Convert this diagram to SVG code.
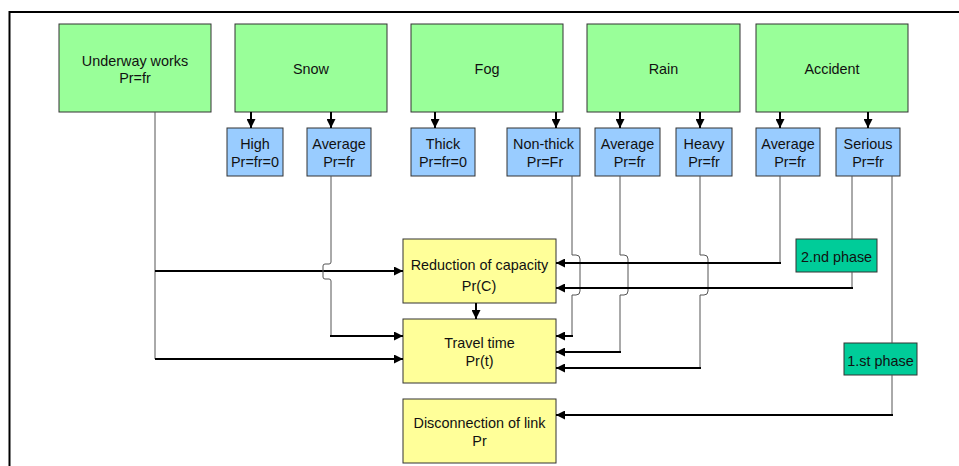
<svg xmlns="http://www.w3.org/2000/svg" width="959" height="466" viewBox="0 0 959 466">
  <style>
    text { font-family: "Liberation Sans", Arial, sans-serif; font-size: 14.4px; fill: #111; text-anchor: middle; }
    .cause { fill: #99ff99; stroke: #333; stroke-width: 1; }
    .level { fill: #99ccff; stroke: #333; stroke-width: 1; }
    .effect { fill: #ffff99; stroke: #333; stroke-width: 1; }
    .phase { fill: #00cc99; stroke: #333; stroke-width: 1; }
    .wire { fill: none; stroke: #555; stroke-width: 1; }
    .arrow { fill: none; stroke: #000; stroke-width: 2; marker-end: url(#head); }
  </style>
  <defs>
    <marker id="head" markerUnits="userSpaceOnUse" markerWidth="9" markerHeight="9" refX="9" refY="4.5" orient="auto">
      <path d="M0,0 L9,4.5 L0,9 Z" fill="#000"/>
    </marker>
  </defs>

  <rect width="959" height="466" fill="#fff"/>
  <!-- frame -->
  <path d="M9.5,466 V12 H959" fill="none" stroke="#000" stroke-width="2"/>

  <!-- causes -->
  <g id="underway-works"><rect class="cause" x="59" y="24" width="152" height="88"/><text x="135" y="65.5">Underway works</text><text x="135" y="83">Pr=fr</text></g>
  <g id="snow"><rect class="cause" x="235" y="24" width="152" height="88"/><text x="311" y="74">Snow</text></g>
  <g id="fog"><rect class="cause" x="411" y="24" width="152" height="88"/><text x="487" y="74">Fog</text></g>
  <g id="rain"><rect class="cause" x="587" y="24" width="153" height="88"/><text x="663.5" y="74">Rain</text></g>
  <g id="accident"><rect class="cause" x="756" y="24" width="152" height="88"/><text x="832" y="74">Accident</text></g>

  <!-- levels -->
  <g id="snow-high"><rect class="level" x="227" y="128" width="56" height="48"/><text x="255" y="149">High</text><text x="255" y="167">Pr=fr=0</text></g>
  <g id="snow-average"><rect class="level" x="307" y="128" width="64" height="48"/><text x="339" y="149">Average</text><text x="339" y="167">Pr=fr</text></g>
  <g id="fog-thick"><rect class="level" x="411" y="128" width="64" height="48"/><text x="443" y="149">Thick</text><text x="443" y="167">Pr=fr=0</text></g>
  <g id="fog-nonthick"><rect class="level" x="507" y="128" width="73" height="48"/><text x="543.5" y="149">Non-thick</text><text x="545" y="167">Pr=Fr</text></g>
  <g id="rain-average"><rect class="level" x="595" y="128" width="65" height="48"/><text x="627.5" y="149">Average</text><text x="629.5" y="167">Pr=fr</text></g>
  <g id="rain-heavy"><rect class="level" x="676" y="128" width="56" height="48"/><text x="704" y="149">Heavy</text><text x="704" y="167">Pr=fr</text></g>
  <g id="accident-average"><rect class="level" x="756" y="128" width="64" height="48"/><text x="788" y="149">Average</text><text x="790" y="167">Pr=fr</text></g>
  <g id="accident-serious"><rect class="level" x="836" y="128" width="64" height="48"/><text x="868" y="149">Serious</text><text x="868" y="167">Pr=fr</text></g>

  <!-- effects -->
  <g id="capacity"><rect class="effect" x="403" y="239" width="153" height="64"/><text x="479.5" y="270">Reduction of capacity</text><text x="479" y="291">Pr(C)</text></g>
  <g id="travel-time"><rect class="effect" x="403" y="319" width="153" height="64"/><text x="479.5" y="348">Travel time</text><text x="479.5" y="366">Pr(t)</text></g>
  <g id="disconnection"><rect class="effect" x="403" y="399" width="153" height="64"/><text x="479.5" y="428">Disconnection of link</text><text x="479.5" y="446">Pr</text></g>

  <!-- phases -->
  <g id="phase-2"><rect class="phase" x="796" y="239" width="81" height="33"/><text x="836.5" y="262">2.nd phase</text></g>
  <g id="phase-1"><rect class="phase" x="844" y="343" width="73" height="32"/><text x="880.5" y="366">1.st phase</text></g>

  <g id="connectors">
    <!-- cause to level -->
    <line class="arrow" x1="251" y1="112" x2="251" y2="128"/>
    <line class="arrow" x1="331" y1="112" x2="331" y2="128"/>
    <line class="arrow" x1="435" y1="112" x2="435" y2="128"/>
    <line class="arrow" x1="556" y1="112" x2="556" y2="128"/>
    <line class="arrow" x1="620" y1="112" x2="620" y2="128"/>
    <line class="arrow" x1="700" y1="112" x2="700" y2="128"/>
    <line class="arrow" x1="780" y1="112" x2="780" y2="128"/>
    <line class="arrow" x1="868" y1="112" x2="868" y2="128"/>

    <!-- underway works -->
    <path class="wire" d="M155,112 V359"/>
    <line class="arrow" x1="155" y1="271" x2="403" y2="271"/>
    <line class="arrow" x1="155" y1="359" x2="403" y2="359"/>

    <!-- snow average, hopping over the capacity line -->
    <path class="wire" d="M331,176 V262 q0,2 -2,2 H325 q-2,0 -2,2 V277 q0,2 2,2 H329 q2,0 2,2 V336"/>
    <line class="arrow" x1="330" y1="336" x2="403" y2="336"/>

    <!-- capacity to travel time -->
    <line class="arrow" x1="476" y1="303" x2="476" y2="319"/>

    <!-- fog non-thick -->
    <path class="wire" d="M572,176 V255 H576 q4,0 4,4 V291 q0,4 -4,4 H572 V336"/>
    <line class="arrow" x1="573" y1="336" x2="556" y2="336"/>

    <!-- rain average -->
    <path class="wire" d="M620,176 V255 H624 q4,0 4,4 V291 q0,4 -4,4 H620 V352"/>
    <line class="arrow" x1="621" y1="352" x2="556" y2="352"/>

    <!-- rain heavy -->
    <path class="wire" d="M700,176 V255 H704 q4,0 4,4 V291 q0,4 -4,4 H700 V368"/>
    <line class="arrow" x1="701" y1="368" x2="556" y2="368"/>

    <!-- accident average -->
    <path class="wire" d="M780,176 V263"/>
    <line class="arrow" x1="781" y1="263" x2="556" y2="263"/>

    <!-- accident serious, 2nd phase -->
    <path class="wire" d="M852,176 V239 M852,272 V288"/>
    <line class="arrow" x1="853" y1="288" x2="556" y2="288"/>

    <!-- accident serious, 1st phase -->
    <path class="wire" d="M892,176 V343 M892,375 V415"/>
    <line class="arrow" x1="893" y1="415" x2="556" y2="415"/>
  </g>
</svg>
